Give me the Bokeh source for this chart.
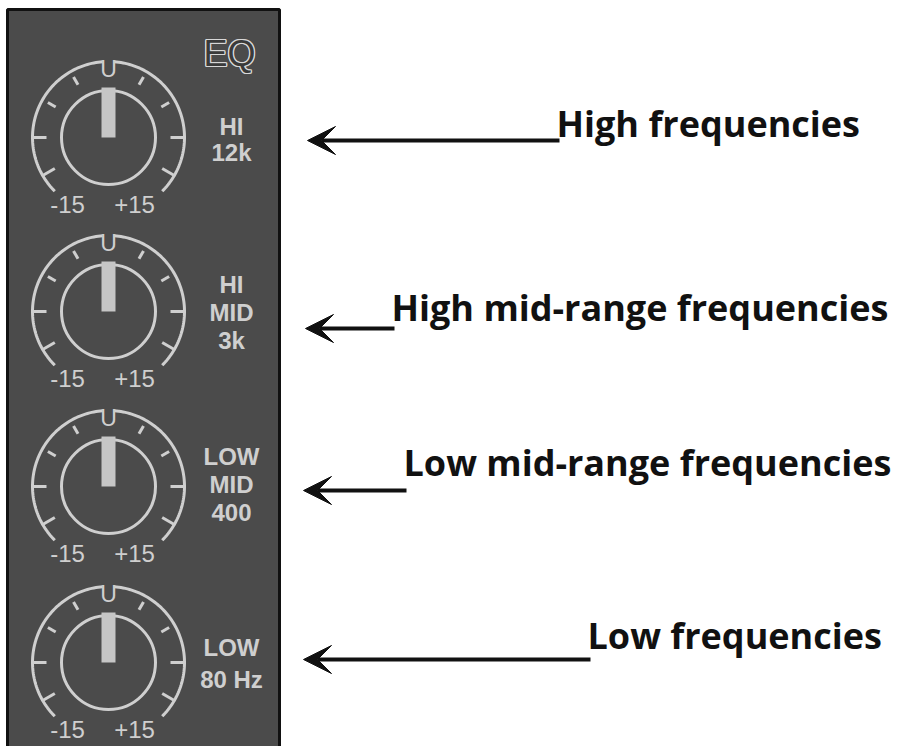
import numpy as np
from bokeh.plotting import figure
from bokeh.models import Range1d, Arrow, VeeHead
from bokeh.core.properties import value
from bokeh.embed import file_html
from bokeh.resources import INLINE

# ---- content ----
knob_labels = [["HI", "12k"], ["HI", "MID", "3k"], ["LOW", "MID", "400"], ["LOW", "80 Hz"]]
band_names = ["High frequencies", "High mid-range frequencies",
              "Low mid-range frequencies", "Low frequencies"]
range_labels = ["-15", "+15"]
center_mark = "U"
panel_title = "EQ"
short_tick_deg = [30, 60, 120, 150]
long_tick_deg = [-30, 0, 180, 210]
arc_span_deg = [-45, 225]

# ---- layout (screen pixels) ----
knob_cx = 108
knob_cy = [137, 311, 486, 662]
label_cy = [139, 312, 484, 663]
label_dy = [26, 28, 28, 32]
band_x = [556, 391, 403, 587]
band_mid = [123, 307, 462, 635]
arrow_y = [140, 328, 490, 659]
arrow_tip = [307, 305, 303, 303]

R_OUT, R_IN, PTR_W, PTR_L = 76, 47, 14, 50
LIGHT = "#cfcfcf"
PANEL = "#4b4b4b"

p = figure(width=896, height=746, x_range=Range1d(0, 896), y_range=Range1d(746, 0),
           output_backend="svg", toolbar_location=None, min_border=0,
           x_axis_location=None, y_axis_location=None)
p.grid.visible = False
p.outline_line_color = None
p.background_fill_color = "white"
p.border_fill_color = "white"

# panel
p.quad(left=[7], right=[279], top=[9], bottom=[800], fill_color=PANEL,
       line_color="#111111", line_width=3)

# outlined "EQ"
ex, ey = 229, 53
offs = [(-1.3, 0), (1.3, 0), (0, -1.3), (0, 1.3), (-0.9, -0.9), (0.9, 0.9), (-0.9, 0.9), (0.9, -0.9)]
p.text(x=[ex + dx for dx, dy in offs], y=[ey + dy for dx, dy in offs], text=[panel_title] * len(offs),
       text_font=value("Liberation Sans"), text_font_size="36px", text_align="center",
       text_baseline="middle", text_color="#d8d8d8")
p.text(x=[ex], y=[ey], text=[panel_title], text_font=value("Liberation Sans"),
       text_font_size="36px", text_align="center", text_baseline="middle",
       text_color="#3a3a3a")

def pt(cx, cy, r, deg):
    a = np.deg2rad(deg)
    return cx + r * np.cos(a), cy - r * np.sin(a)

arc_xs, arc_ys, tk_xs, tk_ys = [], [], [], []
for cy in knob_cy:
    for a0, a1 in [(arc_span_deg[0], 85.5), (94.5, arc_span_deg[1])]:
        th = np.linspace(a0, a1, 80)
        x, y = pt(knob_cx, cy, R_OUT, th)
        arc_xs.append(list(x)); arc_ys.append(list(y))
    for d in short_tick_deg:
        x0, y0 = pt(knob_cx, cy, 61, d); x1, y1 = pt(knob_cx, cy, 70, d)
        tk_xs.append([x0, x1]); tk_ys.append([y0, y1])
    for d in long_tick_deg:
        x0, y0 = pt(knob_cx, cy, 62, d); x1, y1 = pt(knob_cx, cy, 76, d)
        tk_xs.append([x0, x1]); tk_ys.append([y0, y1])

p.multi_line(arc_xs, arc_ys, line_color=LIGHT, line_width=3)
p.multi_line(tk_xs, tk_ys, line_color=LIGHT, line_width=3)

p.circle(x=[knob_cx] * 4, y=knob_cy, radius=R_IN, fill_color=None,
         line_color=LIGHT, line_width=3)
p.quad(left=[knob_cx - PTR_W / 2] * 4, right=[knob_cx + PTR_W / 2] * 4,
       top=[c - PTR_L for c in knob_cy], bottom=knob_cy,
       fill_color="#c6c6c6", line_color=None)

p.text(x=[knob_cx] * 4, y=[c - R_OUT + 7 for c in knob_cy], text=[center_mark] * 4,
       text_font=value("Liberation Sans"), text_font_size="23px",
       text_align="center", text_baseline="middle", text_color=LIGHT)

rx, ry, rt = [], [], []
for cy in knob_cy:
    rx += [67, 134]; ry += [cy + 67, cy + 67]; rt += range_labels
p.text(x=rx, y=ry, text=rt, text_font=value("Liberation Sans"), text_font_size="24px",
       text_align="center", text_baseline="middle", text_color=LIGHT)

lx, ly, lt = [], [], []
for labels, c, dy in zip(knob_labels, label_cy, label_dy):
    n = len(labels)
    for i, t in enumerate(labels):
        lx.append(231); ly.append(c + (i - (n - 1) / 2) * dy); lt.append(t)
p.text(x=lx, y=ly, text=lt, text_font=value("Liberation Sans"), text_font_size="24px",
       text_font_style="bold", text_align="center", text_baseline="middle", text_color=LIGHT)

# band descriptions and arrows
p.text(x=band_x, y=band_mid, text=band_names, text_font=value("Open Sans"),
       text_font_size="36px", text_font_style="bold", text_align="left",
       text_baseline="middle", text_color="#111111")
for bx, ay, tip in zip(band_x, arrow_y, arrow_tip):
    p.add_layout(Arrow(end=VeeHead(size=28, fill_color="#111111", line_color="#111111", line_width=1),
                       x_start=bx + 3, y_start=ay, x_end=tip, y_end=ay,
                       line_color="#111111", line_width=4))

open("out.html", "w").write(file_html(p, INLINE))
